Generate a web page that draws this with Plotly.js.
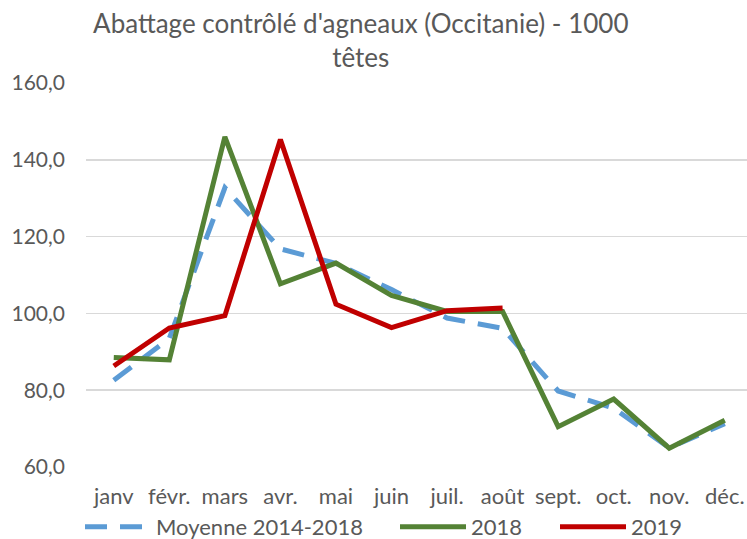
<!DOCTYPE html>
<html>
<head>
<meta charset="utf-8">
<script src="https://cdn.plot.ly/plotly-3.0.1.min.js"></script>
<style>html,body{margin:0;padding:0;background:#fff;overflow:hidden}#chart{width:747px;height:539px}</style>
</head>
<body>
<div id="chart"></div>
<script>
var months = ["janv", "févr.", "mars", "avr.", "mai", "juin", "juil.", "août", "sept.", "oct.", "nov.", "déc."];
var moyenne = [82.6, 93.5, 132.7, 116.8, 113.0, 106.2, 98.8, 96.1, 79.8, 75.3, 65.0, 71.3];
var y2018 = [88.5, 87.9, 146.0, 107.7, 113.1, 104.7, 100.5, 100.5, 70.5, 77.7, 64.9, 72.2];
var y2019 = [86.3, 96.2, 99.4, 145.3, 102.4, 96.3, 100.7, 101.4];
var yTicks = [60, 80, 100, 120, 140, 160];

var font = "Lato, 'Open Sans', sans-serif";
var traces = [
  {x: months, y: moyenne, type: "scatter", mode: "lines", name: "Moyenne 2014-2018",
   line: {color: "#5B9BD5", width: 5, dash: "22px,13px"}, legend: "legend"},
  {x: months, y: y2018, type: "scatter", mode: "lines", name: "2018",
   line: {color: "#548235", width: 5}, legend: "legend2"},
  {x: months.slice(0, y2019.length), y: y2019, type: "scatter", mode: "lines", name: "2019",
   line: {color: "#C00000", width: 5}, legend: "legend3"}
];
function leg(px) {
  return {orientation: "h", xref: "container", yref: "container",
          x: px / 747, xanchor: "left", y: 1 - 527 / 539, yanchor: "middle",
          font: {size: 22}, itemwidth: 66, bgcolor: "rgba(0,0,0,0)"};
}
var layout = {
  width: 747, height: 539,
  margin: {l: 86, r: 0, t: 83, b: 72},
  paper_bgcolor: "#fff", plot_bgcolor: "#fff",
  separators: ", ",
  font: {family: font, color: "#595959", size: 20},
  title: {text: "Abattage contrôlé d'agneaux (Occitanie) - 1000<br>têtes",
          font: {family: font, size: 26, color: "#595959"},
          x: 0.483, xanchor: "center", xref: "container",
          y: 0.939, yanchor: "top", yref: "container"},
  xaxis: {type: "category", range: [-0.5, 11.4], showgrid: false, showline: false,
          zeroline: false, ticks: "", tickfont: {size: 22}, ticklabelstandoff: 14, fixedrange: true},
  yaxis: {range: [60, 160], tickvals: yTicks, tickformat: ".1f", showgrid: true,
          gridcolor: "#D9D9D9", gridwidth: 1.5, zeroline: false, showline: false,
          ticks: "", tickfont: {size: 21}, ticklabelstandoff: 20, fixedrange: true},
  showlegend: true,
  legend: leg(80),
  legend2: leg(395),
  legend3: leg(555)
};
Plotly.newPlot("chart", traces, layout, {displayModeBar: false, staticPlot: true});
</script>
</body>
</html>
